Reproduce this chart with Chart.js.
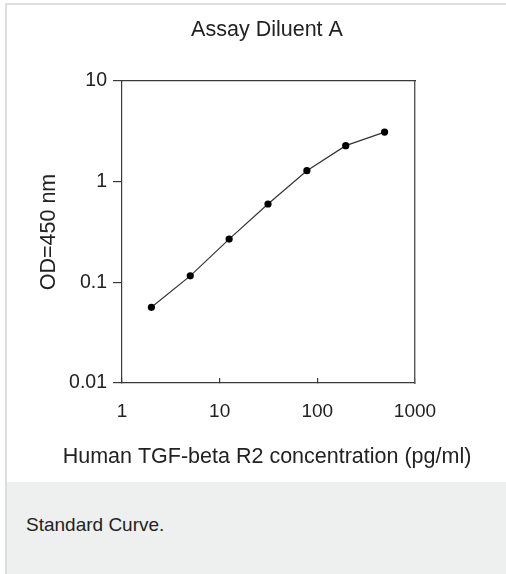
<!DOCTYPE html>
<html>
<head>
<meta charset="utf-8">
<script src="https://cdn.jsdelivr.net/npm/chart.js@4/dist/chart.umd.min.js"></script>
<style>
  html, body { margin: 0; padding: 0; background: #ffffff; }
  body { width: 506px; height: 574px; position: relative; overflow: hidden; font-family: "Liberation Sans", Arial, sans-serif; }
  #panel { position: absolute; left: 5px; top: 3px; width: 499px; height: 477px; border-left: 2px solid #dedede; border-top: 2px solid #dedede; border-bottom: 2px solid #e4e4e4; background: #ffffff; }
  #capbox { position: absolute; left: 5px; top: 482px; width: 499px; height: 92px; border-left: 2px solid #dedede; background: #eef0f0; }
  #caption { position: absolute; left: 26px; top: 514px; font-size: 19px; line-height: 22px; color: #222; }
  #wrap { position: absolute; left: 0; top: 0; width: 506px; height: 482px; }
</style>
</head>
<body>
<div id="panel"></div>
<div id="capbox"></div>
<div id="caption">Standard Curve.</div>
<div id="wrap"><canvas id="c" width="506" height="482"></canvas></div>
<script>
// ---- data ----
const concentrations = [2, 5, 12.5, 31.25, 78.13, 195.3, 488.3];
const odValues = [0.0565, 0.116, 0.269, 0.600, 1.285, 2.28, 3.11];
const xTickValues = [1, 10, 100, 1000];
const xTickLabels = ["1", "10", "100", "1000"];
const yTickValues = [0.01, 0.1, 1, 10];
const yTickLabels = ["0.01", "0.1", "1", "10"];
const chartTitle = "Assay Diluent A";
const xTitle = "Human TGF-beta R2 concentration (pg/ml)";
const yTitle = "OD=450 nm";

const FONT = '"Liberation Sans", Arial, sans-serif';
const AXIS = '#3a3a3a';

const points = concentrations.map((x, i) => ({ x: x, y: odValues[i] }));

new Chart(document.getElementById('c'), {
  type: 'scatter',
  data: {
    datasets: [{
      data: points,
      showLine: true,
      borderColor: '#333333',
      borderWidth: 1.2,
      backgroundColor: '#000000',
      pointBackgroundColor: '#000000',
      pointBorderColor: '#000000',
      pointRadius: 3.6,
      pointBorderWidth: 0,
      tension: 0
    }]
  },
  options: {
    responsive: false,
    animation: false,
    devicePixelRatio: 1,
    layout: { padding: { left: 28, right: 0, top: 0, bottom: 0 } },
    plugins: {
      legend: { display: false },
      tooltip: { enabled: false },
      title: {
        display: true,
        text: chartTitle,
        color: '#222',
        font: { family: FONT, size: 21.5, weight: 'normal' },
        padding: { top: 17.1, bottom: 38.1 }
      },
      subtitle: {
        display: true,
        position: 'bottom',
        text: xTitle,
        color: '#222',
        font: { family: FONT, size: 21.5, weight: 'normal' },
        padding: { top: 21.1, bottom: 12.1 }
      }
    },
    scales: {
      x: {
        type: 'logarithmic',
        position: 'bottom',
        min: 1, max: 1000,
        afterBuildTicks: s => { s.ticks = xTickValues.map(v => ({ value: v })); },
        afterFit: s => { s.height = 40; },
        ticks: {
          autoSkip: false, maxRotation: 0,
          color: '#222',
          font: { family: FONT, size: 19 },
          padding: 22,
          callback: (v) => { const i = xTickValues.indexOf(v); return i >= 0 ? xTickLabels[i] : ''; }
        },
        grid: { drawOnChartArea: false, drawTicks: true, tickLength: -5, color: AXIS, lineWidth: 1.2 },
        border: { display: true, color: AXIS, width: 1.2 }
      },
      y: {
        type: 'logarithmic',
        position: 'left',
        min: 0.01, max: 10,
        afterBuildTicks: s => { s.ticks = yTickValues.map(v => ({ value: v })); },
        afterFit: s => { s.width = 94; },
        ticks: {
          autoSkip: false,
          color: '#222',
          font: { family: FONT, size: 19.5 },
          padding: 6,
          callback: (v) => { const i = yTickValues.indexOf(v); return i >= 0 ? yTickLabels[i] : ''; }
        },
        grid: { drawOnChartArea: false, drawTicks: true, tickLength: 9, color: AXIS, lineWidth: 1.2 },
        border: { display: true, color: AXIS, width: 1.2 },
        title: {
          display: true, text: yTitle, color: '#222',
          font: { family: FONT, size: 21.5 },
          padding: { top: 8, bottom: 0 }
        }
      },
      y2: {
        type: 'linear',
        position: 'right',
        min: 0, max: 1,
        afterFit: s => { s.width = 91; },
        ticks: { display: false },
        grid: { display: false, drawOnChartArea: false, drawTicks: false },
        border: { display: true, color: '#555', width: 1.4 }
      },
      x2: {
        type: 'linear',
        position: 'top',
        min: 0, max: 1,
        afterFit: s => { s.height = 0; },
        ticks: { display: false },
        grid: { display: false, drawOnChartArea: false, drawTicks: false },
        border: { display: true, color: AXIS, width: 1.2 }
      }
    }
  }
});
</script>
</body>
</html>
